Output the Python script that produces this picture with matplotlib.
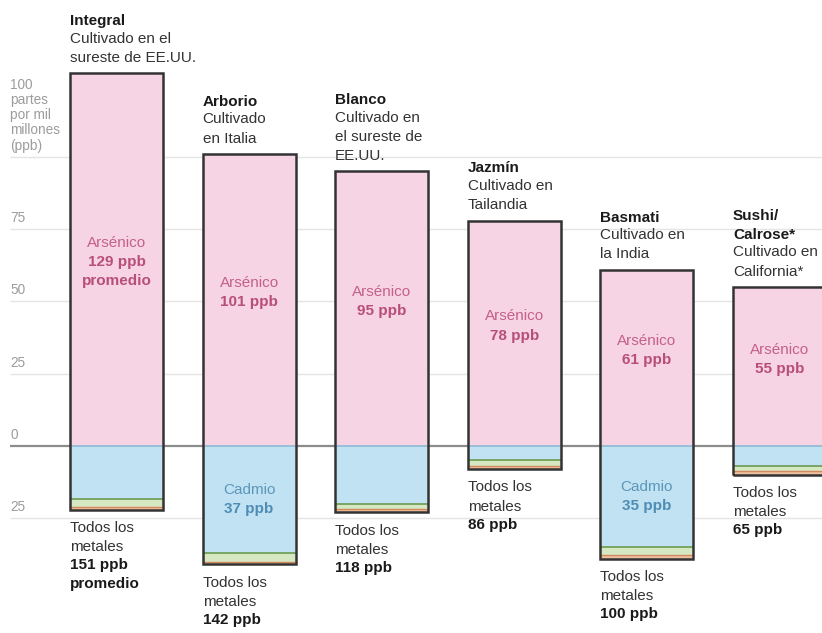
import matplotlib.pyplot as plt

plt.rcParams['font.family'] = ['Liberation Sans', 'DejaVu Sans']

# data (ppb)
rices = ['Integral', 'Arborio', 'Blanco', 'Jazmín', 'Basmati', 'Sushi/\nCalrose*']
origins = ['Cultivado en el\nsureste de EE.UU.', 'Cultivado\nen Italia',
           'Cultivado en\nel sureste de\nEE.UU.', 'Cultivado en\nTailandia',
           'Cultivado en\nla India', 'Cultivado en\nCalifornia*']
arsenic = [129, 101, 95, 78, 61, 55]
cadmium = [18.5, 37, 20, 5, 35, 7]
lead = [2.5, 3.3, 1.7, 2, 2.6, 1.7]
mercury = [1, 0.7, 1.3, 1, 1.4, 1.3]
total = [151, 142, 118, 86, 100, 65]
is_average = [True, False, False, False, False, False]
show_cadmium = [False, True, False, False, True, False]

ticks = [100, 75, 50, 25, 0, -25]
tick_labels = ['100\npartes\npor mil\nmillones\n(ppb)', '75', '50', '25', '0', '25']

# colours
pink = '#f6d4e4'
blue = '#c1e2f3'
green = '#d5e8c2'
peach = '#efc09e'
outline = '#333333'
ls = 1.48

fig = plt.figure(figsize=(8.22, 6.33), dpi=100)
ax = fig.add_axes([0, 0, 1, 1])
ax.set_xlim(0, 822)
ax.set_ylim(-64.7, 154.3)
ax.axis('off')

# grid
for t, lab in zip(ticks, tick_labels):
    if t == 0:
        ax.hlines(t, 10, 822, color='#8c8c8c', lw=1.6, zorder=1)
    else:
        ax.hlines(t, 10, 822, color='#e4e4e4', lw=1.0, zorder=1)
    ax.annotate(lab, xy=(10, t), xytext=(0, 3), textcoords='offset points',
                ha='left', va='bottom', fontsize=9.8, color='#9c9c9c', linespacing=1.12)

width = 93
step = 132.6
for i in range(len(rices)):
    x = 70 + step * i
    c, l, m = cadmium[i], lead[i], mercury[i]
    below = c + l + m

    ax.bar(x, arsenic[i], width=width, bottom=0, align='edge', color=pink, zorder=2)
    ax.bar(x, -c, width=width, bottom=0, align='edge', color=blue, zorder=2)
    ax.bar(x, -l, width=width, bottom=-c, align='edge', color=green, zorder=2)
    ax.bar(x, -m, width=width, bottom=-c - l, align='edge', color=peach, zorder=2)
    ax.hlines(0, x, x + width, color='#8fb8d6', lw=1.2, zorder=3)
    ax.hlines(-c, x, x + width, color='#6a9a50', lw=1.2, zorder=3)
    ax.hlines(-c - l, x, x + width, color='#d4885e', lw=1.0, zorder=3)
    ax.bar(x, arsenic[i] + below, width=width, bottom=-below, align='edge',
           fill=False, edgecolor=outline, lw=1.8, zorder=4)

    # labels inside
    cx = x + width / 2
    mid = arsenic[i] / 2 + 2.5
    val = f'{arsenic[i]} ppb' + ('\npromedio' if is_average[i] else '')
    ax.text(cx, mid + 0.9, 'Arsénico', ha='center', va='bottom', fontsize=11,
            color='#c4608a', zorder=5)
    ax.text(cx, mid - 0.9, val, ha='center', va='top', fontsize=11,
            fontweight='bold', color='#b84e7a', linespacing=ls, zorder=5)
    if show_cadmium[i]:
        cm = -c / 2
        ax.text(cx, cm + 0.9, 'Cadmio', ha='center', va='bottom', fontsize=11,
                color='#5b96bb', zorder=5)
        ax.text(cx, cm - 0.9, f'{c:.0f} ppb', ha='center', va='top', fontsize=11,
                fontweight='bold', color='#4f8db5', zorder=5)

    # header above the bar
    sub = ax.annotate(origins[i], xy=(x, arsenic[i]), xytext=(0, 6),
                      textcoords='offset points', ha='left', va='bottom',
                      fontsize=11, color='#333333', linespacing=ls)
    ax.annotate(rices[i], xy=(0, 1), xycoords=sub, xytext=(0, 2.5),
                textcoords='offset points', ha='left', va='bottom',
                fontsize=11, fontweight='bold', color='#1a1a1a', linespacing=ls)

    # total below the bar
    low = ax.annotate('Todos los\nmetales', xy=(x, -below), xytext=(0, -8),
                      textcoords='offset points', ha='left', va='top',
                      fontsize=11, color='#333333', linespacing=ls)
    tot = f'{total[i]} ppb' + ('\npromedio' if is_average[i] else '')
    ax.annotate(tot, xy=(0, 0), xycoords=low, xytext=(0, -3),
                textcoords='offset points', ha='left', va='top',
                fontsize=11, fontweight='bold', color='#1a1a1a', linespacing=ls)

fig.savefig('out.png', dpi=100)
